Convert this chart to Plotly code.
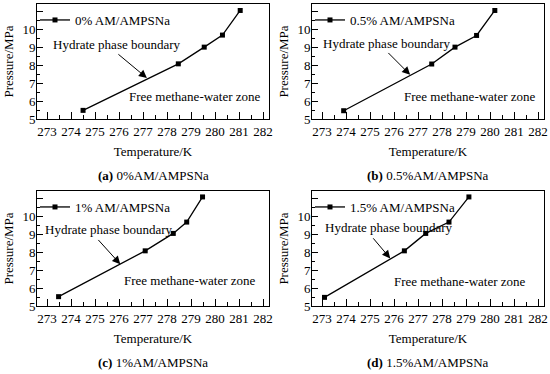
import plotly.graph_objects as go

# ---- data ----
labels = ["0% AM/AMPSNa", "0.5% AM/AMPSNa", "1% AM/AMPSNa", "1.5% AM/AMPSNa"]
captions = ["0%AM/AMPSNa", "0.5%AM/AMPSNa", "1%AM/AMPSNa", "1.5%AM/AMPSNa"]
panel_tags = ["(a)", "(b)", "(c)", "(d)"]

T_a = [274.50, 278.47, 279.55, 280.31, 281.05]
P_a = [5.48, 8.07, 9.00, 9.67, 11.04]
T_b = [273.90, 277.57, 278.54, 279.44, 280.20]
P_b = [5.46, 8.06, 9.00, 9.65, 11.04]
T_c = [273.48, 277.09, 278.26, 278.82, 279.48]
P_c = [5.52, 8.07, 9.04, 9.67, 11.07]
T_d = [273.10, 276.43, 277.32, 278.29, 279.12]
P_d = [5.48, 8.07, 9.04, 9.67, 11.07]

x_ticks = [273, 274, 275, 276, 277, 278, 279, 280, 281, 282]
y_ticks = [5, 6, 7, 8, 9, 10, 11]
y_ticktext = ["5", "6", "7", "8", "9", "10", ""]

series_T = [T_a, T_b, T_c, T_d]
series_P = [P_a, P_b, P_c, P_d]

# annotation anchor points (data coords): text centre, arrow tail, arrow head, zone text
hyd_text = [(275.91, 9.13), (275.70, 9.22), (275.56, 9.26), (275.77, 9.37)]
arrow_tail = [(275.91, 8.67), (275.70, 8.76), (275.08, 8.76), (275.08, 8.85)]
arrow_head = [(277.16, 7.28), (276.67, 7.46), (276.05, 7.33), (275.84, 7.65)]
zone_text = [(279.16, 6.26), (279.16, 6.26), (278.96, 6.40), (278.75, 6.35)]

W, H = 550, 374
FONT = "Liberation Serif"

# pixel boxes of the plotting areas: (left, right, top, bottom)
boxes = [(37, 269, 4, 119), (312, 544, 4, 119), (37, 269, 191, 306), (312, 544, 191, 306)]

fig = go.Figure()
layout = dict(
    width=W, height=H, margin=dict(l=0, r=0, t=0, b=0),
    paper_bgcolor="white", plot_bgcolor="white",
    font=dict(family=FONT, size=13, color="black"),
    annotations=[],
)

for i in range(4):
    n = "" if i == 0 else str(i + 1)
    L, R, Tp, B = boxes[i]
    xa = dict(
        domain=[L / W, R / W], range=[272.58, 282.25], anchor="y" + n,
        tickmode="array", tickvals=x_ticks, ticks="inside", ticklen=7, tickwidth=1, tickcolor="black",
        minor=dict(dtick=0.5, tick0=273, ticks="inside", ticklen=4, tickwidth=1, tickcolor="black", showgrid=False),
        showline=True, linecolor="black", linewidth=1, mirror=True,
        showgrid=False, zeroline=False, automargin=False,
        tickfont=dict(family=FONT, size=13, color="black"),
        title=dict(text="Temperature/K", standoff=9, font=dict(family=FONT, size=13, color="black")),
    )
    ya = dict(
        domain=[(H - B) / H, (H - Tp) / H], range=[5, 11.4], anchor="x" + n,
        tickmode="array", tickvals=y_ticks, ticktext=y_ticktext,
        ticks="inside", ticklen=6, tickwidth=1, tickcolor="black",
        minor=dict(dtick=0.5, tick0=5, ticks="inside", ticklen=3, tickwidth=1, tickcolor="black", showgrid=False),
        showline=True, linecolor="black", linewidth=1, mirror=True,
        showgrid=False, zeroline=False, automargin=False,
        ticklabelstandoff=-2,
        tickfont=dict(family=FONT, size=13, color="black"),
        title=dict(text="Pressure/MPa", standoff=5, font=dict(family=FONT, size=13, color="black")),
    )
    layout["xaxis" + n] = xa
    layout["yaxis" + n] = ya

    leg = "legend" if i == 0 else "legend" + str(i + 1)
    layout[leg] = dict(
        x=(L - 2) / W, y=(H - Tp - 1) / H, xanchor="left", yanchor="top",
        bgcolor="rgba(0,0,0,0)", borderwidth=0, itemwidth=30,
        font=dict(family=FONT, size=13, color="black"),
    )

    fig.add_trace(go.Scatter(
        x=series_T[i], y=series_P[i], mode="lines+markers", name=labels[i],
        line=dict(color="black", width=1.3),
        marker=dict(symbol="square", size=5, color="black"),
        xaxis="x" + n, yaxis="y" + n, legend=leg, showlegend=True,
    ))

    xr, yr = "x" + n, "y" + n
    layout["annotations"] += [
        dict(x=hyd_text[i][0], y=hyd_text[i][1], xref=xr, yref=yr, text="Hydrate phase boundary",
             showarrow=False, xanchor="center", font=dict(family=FONT, size=13, color="black")),
        dict(x=arrow_head[i][0], y=arrow_head[i][1], ax=arrow_tail[i][0], ay=arrow_tail[i][1],
             xref=xr, yref=yr, axref=xr, ayref=yr, text="", showarrow=True,
             arrowhead=2, arrowsize=1.6, arrowwidth=1, arrowcolor="black", standoff=0),
        dict(x=zone_text[i][0], y=zone_text[i][1], xref=xr, yref=yr, text="Free methane-water zone",
             showarrow=False, xanchor="center", font=dict(family=FONT, size=13, color="black")),
        dict(x=(L + R) / 2 / W, y=(H - (175 if i < 2 else 362)) / H, xref="paper", yref="paper",
             text="<b>" + panel_tags[i] + "</b> " + captions[i], showarrow=False,
             xanchor="center", yanchor="middle",
             font=dict(family=FONT, size=13, color="black")),
    ]

fig.update_layout(**layout)
fig.write_html("out.html", config={"displayModeBar": False},
               post_script="document.body.style.margin='0';document.body.style.overflow='hidden';")
